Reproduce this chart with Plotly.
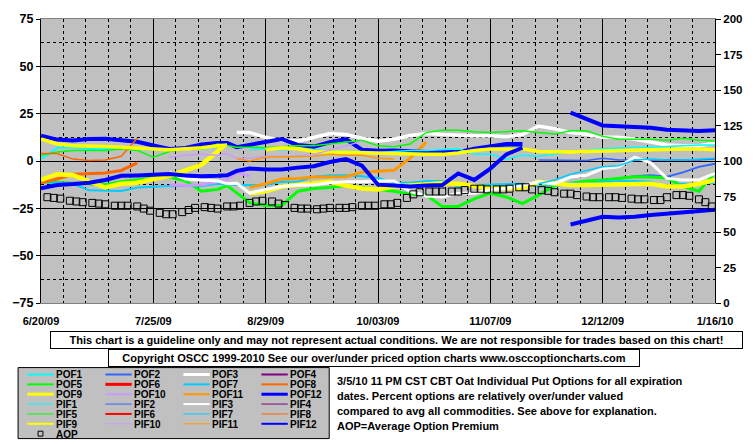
import plotly.graph_objects as go

N = None
# ---------------- data ----------------
dates = ["2009-06-20", "2009-06-25", "2009-06-30", "2009-07-05", "2009-07-10", "2009-07-15",
         "2009-07-20", "2009-07-25", "2009-07-30", "2009-08-04", "2009-08-09", "2009-08-14",
         "2009-08-17", "2009-08-20", "2009-08-24", "2009-08-29", "2009-09-03", "2009-09-08",
         "2009-09-13", "2009-09-18", "2009-09-23", "2009-09-28", "2009-10-03", "2009-10-08",
         "2009-10-13", "2009-10-18", "2009-10-23", "2009-10-28", "2009-11-02", "2009-11-07",
         "2009-11-12", "2009-11-17", "2009-11-22", "2009-11-27", "2009-12-02", "2009-12-07",
         "2009-12-12", "2009-12-17", "2009-12-22", "2009-12-27", "2010-01-01", "2010-01-06",
         "2010-01-11", "2010-01-16"]

pof1 = [1, 7, 7.3, 6.4, 6.4, 6.4, 6.4, 6, 6.4, 7, 6.4, 7.5, 9] + [N] * 31
pof2 = [N] * 29 + [7, 7.5, 7.5] + [N] * 4 + [-10, -9.2, -8, -7.5, -8.3, -6, -3.1, -1.4]
pof3 = [N] * 13 + [15, 15, 12.5, 10.8, 10.5, 12.5, 14.5, 14, 12, 10.5, 11.5, 13.5, 14.5, 14,
                   13.5, 13.4, 13.3, 12.8, 14] + [18.5, 17, 15, 14, 12.5, 12.5, 11.5, 10, 8.5, 8, 8, 9.5]
pof4 = [N] * 44
pof5 = [-11, -11.5, -11.8, -12, -12.5, -11, -10, -9, -8.5, -10.5, -16, -15, -13] + \
       [-17, -22, -23.5, -23.5, -16, -14.5, -14, -13, -14, -15, -16, -17.5, -18, -24, -24, -20, -17, -19, -22.5] + \
       [-18, -13, -11.8, -10.5, -10, -9, -8.3, -8.5, -9, -13.5, -16, -6]
pof6 = [N] * 44
pof7 = [-11, -11.5, -12, -15.5, -15.8, -15.8, -14, -13.5, -13.2, -13.2, -13.2, -12, -12.5] + \
       [-12.7, -12.7, -12.7, -11, -11, -8.3, -7.5, -7.5, -8, -9, -11.5, -11.5, -10.5, -10.5, -13.5, -12.7, -12.5, -12.3, -12] + \
       [-13.5, -12.5, -11.5, -12, -11, -10.7, -10.5, -11, -13.5, -12, -12, -11.5]
pof8 = [-11.5, -9.5, -7, -6.6, -6.3, -5, -1] + [N] * 37
pof9 = [-10, -7, -7.5, -11, -14, -12, -11.5, -9.5, -8, -5, -2, 5, 10] + [N] + \
       [-17, -16, -13.5, -12.5, -11.5, -11, -13, -14.5, -15, -13.5, -13, -12.5, -11.8, -12, -13.5, -14.4, -14.4, -14.4] + \
       [-11, -12, -12.7, -12.7, -12.5, -12, -11.8, -12, -13.5, -13.5, -12, -10]
pof10 = [N] * 8 + [-12.5, -13, -12.5, -11, -10] + [-6, -8] + [N] * 29
pof11 = [N] * 14 + [-14, -12, -9.5, -9.2, -8.5, -8.3, -8.3, -6, -5.5, -4.9, 1.5, 10] + [N] * 18
pof12 = [13.4, 11.3, 10.8, 11.6, 11.8, 11.1, 10.2, 8.2, 6.4, 6.9, 8.7, 9.5, 9.5] + \
        [7.3, 8.5, 9.9, 11.6, 8.5, 7.6, 9.9, 11.5, 6, 5.4, 5.6, 5, 4.7, 4.7, 4.7, 6.5, 8, 9, 9] + \
        [N, N, 25.5, 22, 18.8, 18.4, 18.2, 17.6, 16.5, 16.2, 15.8, 16.3]

pif1 = [N] * 14 + [6, 6.5, 6, 6.4, 6, 5.5, 5, 5, 4.5, 5, 5.5, 5.5, 5.8, 6.4, 3.5, 3.5, 1, 3] + \
       [2.5, 3.5, 5, 5.5, 6.5, 7, 7.3, 7.3, 7.5, 8, 8.5, 8.5]
pif2 = [N] * 32 + [0.5, 0.5, 0.3, 0.3, 1.5, 0.5, 0.5, 0.5, 0.3, 0.3, 0.5, 1]
pif3 = [N] * 8 + [-6, -9.5, -10, -10.5, -12] + \
       [-11.8, -17, -15, -13.5, -12.7, -12.7, -11.5, -11, -11, -10.5, -10.5, -16, -18.5, -19, -17, -17, -15, -14.4, -13] + \
       [-11, -12, -8.5, -7.5, -4, -3, 2, -1, -9.2, -10, -10, -6.6]
pif4 = [N] * 44
pif5 = [3, 4.7, 5.6, 5.6, 5.6, 6.4, 5.6, 2, 5, 6.4, 6.4, 9, 8] + \
       [7.3, 7.3, 7, 7.5, 8, 8, 9, 10, 11, 8, 7.5, 9, 15, 16.3, 16.3, 15.5, 15.1, 15.5, 16] + \
       [15, 14.2, 16, 16, 13, 11.5, 11.5, 11.5, 11, 12, 11, 10.5]
pif6 = [N] * 44
pif7 = [N] * 32 + [-12, -10, -7, -5, -3, -2.5, 0.5, 1, 0.5, 0.5, 1, 1.5]
pif8 = [4, 4, 1, 0.3, 0.5, 2.5, 12] + [N] * 37
pif9 = [11.6, 9, 8, 7.6, 7.6, 7.3, 6.8, 6.2, 6, 6.5, 7, 8, 8.5] + [N, N] + \
       [6, 7, 6.5, 5, 4.7, 4.5, 4, 4, 4, 3.8, 3.5, 3.5, 4.2, 5.6, 6.4, 6.4, 6.4] + \
       [5, 4.7, 4.7, 5, 5.3, 5.6, 5.6, 5.8, 6.2, 6.4, 6.4, 6]
pif10 = [N] * 8 + [2, 3, 3.5, 3, 4] + [1.5, 1.5, 2.5, 2.5, 2.5, 3.5, 5.6, 8, 10.5] + [N] * 22
pif11 = [N] * 13 + [1.2, 0, 2, 2.1, 2.1, 2.5, 3.5, 3, 3, 1.5, 1] + [N] * 20
pif12 = [-14.4, -12.7, -12.2, -11.5, -10, -7.8, -7.6, -7.4, -6.9, -7.6, -8, -7.8, -7.5] + \
        [-5.2, -4, -4.5, -4.5, -3.5, -2.8, -0.5, 1, -2.5, -12.5, -13, -13.5, -13, -12.7, -6.6, -10, -4, 3.5, 7] + \
        [N, N, -33.5, -31.5, -29.5, -29.8, -29.5, -28.5, -27.8, -27, -26.3, -25.7]

aop_dates = [
    "2009-06-22", "2009-06-24", "2009-06-26", "2009-06-29", "2009-07-01", "2009-07-03",
    "2009-07-06", "2009-07-08", "2009-07-10", "2009-07-13", "2009-07-15", "2009-07-17",
    "2009-07-20", "2009-07-22", "2009-07-24", "2009-07-27", "2009-07-29", "2009-07-31",
    "2009-08-03", "2009-08-05", "2009-08-07", "2009-08-10", "2009-08-12", "2009-08-14",
    "2009-08-17", "2009-08-19", "2009-08-21", "2009-08-24", "2009-08-26", "2009-08-28",
    "2009-08-31", "2009-09-02", "2009-09-04", "2009-09-07", "2009-09-09", "2009-09-11",
    "2009-09-14", "2009-09-16", "2009-09-18", "2009-09-21", "2009-09-23", "2009-09-25",
    "2009-09-28", "2009-09-30", "2009-10-02", "2009-10-05", "2009-10-07", "2009-10-09",
    "2009-10-12", "2009-10-14", "2009-10-16", "2009-10-19", "2009-10-21", "2009-10-23",
    "2009-10-26", "2009-10-28", "2009-10-30", "2009-11-02", "2009-11-04", "2009-11-06",
    "2009-11-09", "2009-11-11", "2009-11-13", "2009-11-16", "2009-11-18", "2009-11-20",
    "2009-11-23", "2009-11-25", "2009-11-27", "2009-11-30", "2009-12-02", "2009-12-04",
    "2009-12-07", "2009-12-09", "2009-12-11", "2009-12-14", "2009-12-16", "2009-12-18",
    "2009-12-21", "2009-12-23", "2009-12-25", "2009-12-28", "2009-12-30", "2010-01-01",
    "2010-01-04", "2010-01-06", "2010-01-08", "2010-01-11", "2010-01-13", "2010-01-15"]
aop = [74.5, 74, 73.5, 72, 71.5, 71, 70.5, 70, 69.5, 68.5, 68.5, 68.5,
       68, 66.5, 65, 63.5, 62.5, 62.5, 64, 65.5, 67, 67.5, 67, 66.5,
       68, 68, 68.5, 70.5, 71.5, 72, 71.5, 70, 69, 67, 66.5, 66.5,
       66, 66.5, 67, 67, 67, 67.5, 68.5, 68.5, 68.5, 69.5, 69.5, 70.5,
       74, 76.5, 78, 78.5, 78.5, 78.5, 78.5, 78.5, 79.5, 80.5, 80.5, 80,
       80, 80, 80.5, 81.5, 81.5, 80, 79.5, 79, 78, 77, 77, 76,
       75, 74.5, 74.5, 74.5, 74.5, 74, 73.5, 73, 73, 72.5, 72.5, 74.5,
       76, 76, 75.5, 73, 71, 68]

x_tick_dates = ["2009-06-20", "2009-07-25", "2009-08-29", "2009-10-03", "2009-11-07", "2009-12-12", "2010-01-16"]
x_tick_labels = ["6/20/09", "7/25/09", "8/29/09", "10/03/09", "11/07/09", "12/12/09", "1/16/10"]
left_ticks = [-75, -50, -25, 0, 25, 50, 75]
right_ticks = [0, 25, 50, 75, 100, 125, 150, 175, 200]

names = ["POF1", "POF2", "POF3", "POF4", "POF5", "POF6", "POF7", "POF8", "POF9", "POF10", "POF11", "POF12",
         "PIF1", "PIF2", "PIF3", "PIF4", "PIF5", "PIF6", "PIF7", "PIF8", "PIF9", "PIF10", "PIF11", "PIF12"]
values = [pof1, pof2, pof3, pof4, pof5, pof6, pof7, pof8, pof9, pof10, pof11, pof12,
          pif1, pif2, pif3, pif4, pif5, pif6, pif7, pif8, pif9, pif10, pif11, pif12]
base_colors = ["#00FFFF", "#3366FF", "#FFFFFF", "#800080", "#00FF00", "#FF0000",
               "#00CCFF", "#FF6600", "#FFFF00", "#CC99FF", "#FF9900", "#0000FF"]
colors = base_colors + base_colors
plot_widths = [2, 2, 3.5, 2, 3, 3, 2, 3, 4.5, 3, 3, 4,
               1.5, 1.5, 3, 1.5, 1.5, 2, 1.5, 1.5, 3.5, 1.5, 1.5, 4]
legend_widths = [2, 2, 3, 2, 2, 3, 2, 2, 3, 2, 2, 3,
                 1, 1, 2, 1, 1, 2, 1, 1, 2, 1, 1, 2]

info_lines = ["3/5/10 11 PM CST CBT Oat Individual Put Options for all expiration",
              "dates. Percent options are relatively over/under valued",
              "compared to avg all commodities. See above for explanation.",
              "AOP=Average Option Premium"]
disclaimer = "This chart is a guideline only and may not represent actual conditions. We are not responsible for trades based on this chart!"
copyright_txt = "Copyright OSCC 1999-2010 See our over/under priced option charts www.osccoptioncharts.com"

# ---------------- layout geometry ----------------
W, H = 755, 446
ML, MR, MT, MB = 32, 32, 15, 143
PW, PH = W - ML - MR, H - MT - MB


def px(x):
    return (x - ML) / PW


def py(y):
    return (H - MB - y) / PH


FONT = "Liberation Sans"
fig = go.Figure()

for nm, vals, col, wd in zip(names, values, colors, plot_widths):
    fig.add_trace(go.Scatter(x=dates, y=vals, mode="lines", name=nm,
                             line=dict(color=col, width=wd), hoverinfo="skip"))

fig.add_trace(go.Scatter(x=aop_dates, y=aop, mode="markers", name="AOP", yaxis="y2",
                         marker=dict(symbol="square-open", size=7, color="black",
                                     line=dict(width=1, color="black")),
                         hoverinfo="skip"))

shapes = []
annotations = []
small = dict(family=FONT, size=11, color="black", weight="bold")
legfont = dict(family=FONT, size=10, color="black", weight="bold")

# legend box
shapes.append(dict(type="rect", xref="paper", yref="paper",
                   x0=px(8.5), x1=px(327.5), y0=py(368.5), y1=py(440.5),
                   fillcolor="#C0C0C0", line=dict(color="black", width=1)))
for i, nm in enumerate(names):
    r = (i // 12) * 3 + (i % 12) // 4
    c = i % 4
    yy = 375.5 + 10.0 * r
    x0 = 18 + 80 * c
    shapes.append(dict(type="line", xref="paper", yref="paper",
                       x0=px(x0), x1=px(x0 + 27), y0=py(yy), y1=py(yy),
                       line=dict(color=colors[i], width=legend_widths[i])))
    annotations.append(dict(text=nm, xref="paper", yref="paper", x=px(x0 + 28), y=py(yy),
                            xanchor="left", yanchor="middle", showarrow=False,
                            height=10, borderpad=0, font=legfont))
# AOP entry
shapes.append(dict(type="rect", xref="paper", yref="paper",
                   x0=px(29), x1=px(34), y0=py(433), y1=py(438),
                   line=dict(color="black", width=1), fillcolor="rgba(0,0,0,0)"))
annotations.append(dict(text="AOP", xref="paper", yref="paper", x=px(46), y=py(435.5),
                        xanchor="left", yanchor="middle", showarrow=False,
                        height=10, borderpad=0, font=legfont))

# disclaimer boxes
annotations.append(dict(text=disclaimer, xref="paper", yref="paper", x=px(396.5), y=py(341),
                        xanchor="center", yanchor="middle", showarrow=False, width=689, height=14,
                        bgcolor="white", bordercolor="black", borderwidth=1, borderpad=1,
                        font=small))
annotations.append(dict(text=copyright_txt, xref="paper", yref="paper", x=px(373), y=py(359),
                        xanchor="center", yanchor="middle", showarrow=False, width=528, height=14,
                        bgcolor="white", bordercolor="black", borderwidth=1, borderpad=1,
                        font=small))
for k, line in enumerate(info_lines):
    annotations.append(dict(text=line, xref="paper", yref="paper", x=px(333), y=py(382.5 + 15 * k),
                            xanchor="left", yanchor="middle", showarrow=False, font=small))

xtickfont = dict(family=FONT, size=11, color="black", weight="bold")
ltickfont = dict(family=FONT, size=12.5, color="black", weight="bold")
rtickfont = dict(family=FONT, size=11.5, color="black", weight="bold")
dash = "3px,3px"

fig.update_layout(
    width=W, height=H,
    margin=dict(l=ML, r=MR, t=MT, b=MB, pad=0),
    paper_bgcolor="white", plot_bgcolor="#C0C0C0",
    showlegend=False, hovermode=False,
    xaxis=dict(type="date", range=["2009-06-20", "2010-01-16"],
               tickmode="array", tickvals=x_tick_dates, ticktext=x_tick_labels,
               ticks="", tickfont=xtickfont, ticklabelstandoff=8,
               showgrid=True, gridcolor="black", gridwidth=1,
               minor=dict(tick0="2009-06-20", dtick=7 * 86400000, showgrid=True,
                          gridcolor="black", griddash=dash, gridwidth=1),
               showline=True, linecolor="#808080", linewidth=1, mirror=True,
               zeroline=False, fixedrange=True),
    yaxis=dict(range=[-75, 75], tickmode="array", tickvals=left_ticks,
               ticks="outside", ticklen=4, tickcolor="black", tickfont=ltickfont,
               showgrid=True, gridcolor="black", gridwidth=1,
               minor=dict(tick0=-75, dtick=12.5, showgrid=True, gridcolor="black",
                          griddash=dash, gridwidth=1),
               showline=True, linecolor="black", linewidth=1,
               zeroline=False, fixedrange=True),
    yaxis2=dict(range=[0, 200], overlaying="y", side="right", tickmode="array",
                tickvals=right_ticks, ticks="outside", ticklen=5, tickcolor="black",
                tickfont=rtickfont, showgrid=False, showline=True, linecolor="black",
                linewidth=1, zeroline=False, fixedrange=True),
    shapes=shapes, annotations=annotations,
)

fig.write_html("out.html", config={"displayModeBar": False, "staticPlot": True},
               post_script="document.body.style.margin='0';document.body.style.overflow='hidden';")
